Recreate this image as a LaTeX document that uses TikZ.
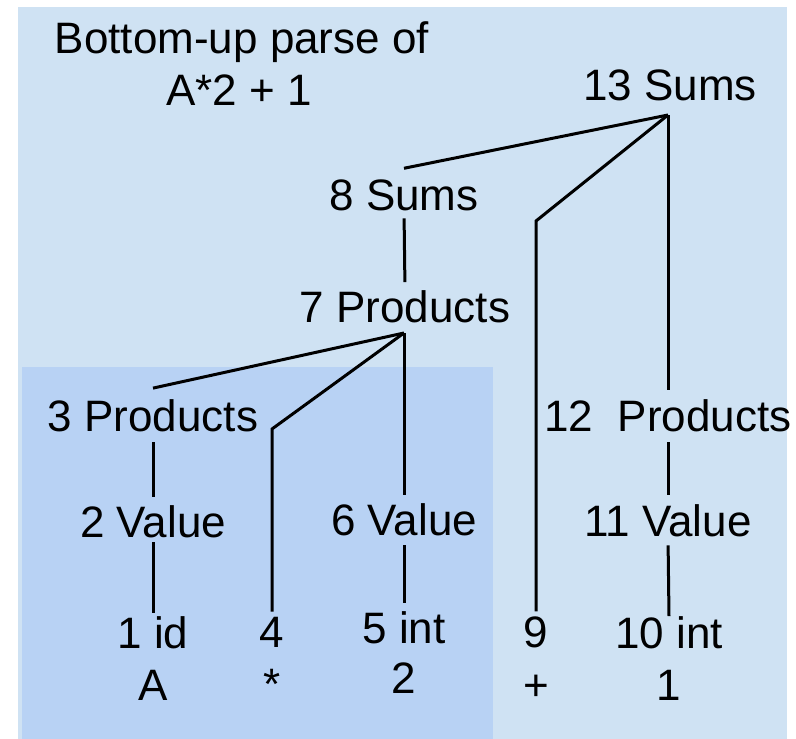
\documentclass[tikz,border=0pt]{standalone}
\usepackage{fontspec}
\setmainfont{Liberation Sans}
\definecolor{bgouter}{RGB}{207,226,243}
\definecolor{bginner}{RGB}{184,210,244}
\begin{document}
\begin{tikzpicture}[x=1pt,y=-1pt,
  lbl/.style={inner sep=0pt, outer sep=0pt, anchor=base, font=\fontsize{44}{53}\selectfont, text=black},
  edge/.style={draw=black, line width=3pt}]
\useasboundingbox (0,0) rectangle (796,739);
\fill[bgouter] (18,7) rectangle (787,739);
\fill[bginner] (22,367) rectangle (493,739);

% title
\node[lbl] (title1) at (242,53) {Bottom-up parse of};
\node[lbl] (title2) at (239,105) {A*2 + 1};

% tree labels
\node[lbl] (n13) at (670,100) {13 Sums};
\node[lbl] (n8)  at (404,210) {8 Sums};
\node[lbl] (n7)  at (405,322) {7 Products};
\node[lbl] (n3)  at (153,431) {3 Products};
\node[lbl] (n12) at (668,431) {12\ \ Products};
\node[lbl] (n2)  at (153,537) {2 Value};
\node[lbl] (n6)  at (404,535) {6 Value};
\node[lbl] (n11) at (668,536) {11 Value};
\node[lbl] (n1)  at (153,648) {1 id};
\node[lbl] (n4)  at (272,647) {4};
\node[lbl] (n5)  at (404,643) {5 int};
\node[lbl] (n9)  at (536,647) {9};
\node[lbl] (n10) at (669,648) {10 int};

% tokens
\node[lbl] (tA)    at (153,700) {A};
\node[lbl] (tstar) at (272,699) {*};
\node[lbl] (t2)    at (404,693) {2};
\node[lbl] (tplus) at (536,700) {+};
\node[lbl] (t1)    at (669,700) {1};

% junction points
\coordinate (a13) at (668,115);
\coordinate (b9)  at (536,221);
\coordinate (a7)  at (404,333);
\coordinate (b4)  at (272,429);

% edges from 13
\draw[edge] (a13) -- ([yshift=11pt]n8.north);
\draw[edge] (a13) -- (b9) -- ([yshift=5pt]n9.north);
\draw[edge] (a13) -- ([yshift=9pt]n12.north);

% 8 -> 7
\draw[edge, shorten <=8pt, shorten >=8pt] (n8.south) -- (n7.north);

% edges from 7
\draw[edge] (a7) -- ([yshift=11pt]n3.north);
\draw[edge] (a7) -- (b4) -- ([yshift=5pt]n4.north);
\draw[edge] (a7) -- ([yshift=8pt]n6.north);

% vertical chains
\draw[edge, shorten <=11pt, shorten >=8pt] (n3.south) -- (n2.north);
\draw[edge, shorten <=5pt, shorten >=3pt] (n2.south) -- (n1.north);
\draw[edge, shorten <=10pt, shorten >=8pt] (n6.south) -- (n5.north);
\draw[edge, shorten <=11pt, shorten >=9pt] (n12.south) -- (n11.north);
\draw[edge, shorten <=9pt] (n11.south) -- (n10.north);
\end{tikzpicture}
\end{document}
